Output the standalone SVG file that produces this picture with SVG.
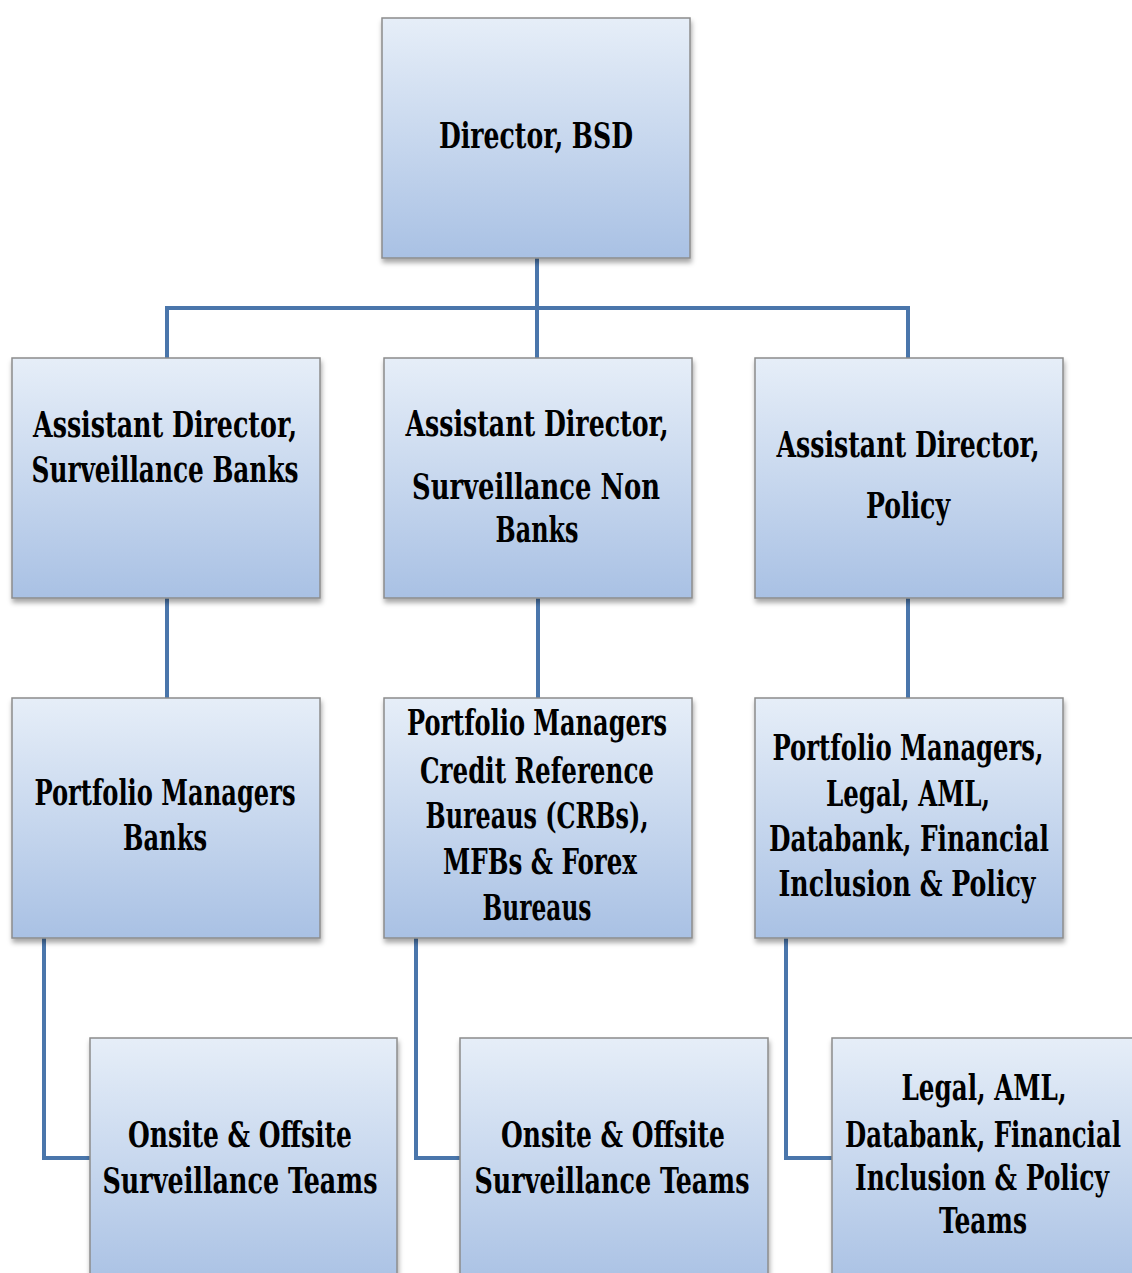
<svg xmlns="http://www.w3.org/2000/svg" width="1132" height="1273" viewBox="0 0 1132 1273">
<defs>
<linearGradient id="g" x1="0" y1="0" x2="0" y2="1">
<stop offset="0" stop-color="#e6eef8"/>
<stop offset="1" stop-color="#a9c1e4"/>
</linearGradient>
<filter id="sh" x="-10%" y="-10%" width="125%" height="125%">
<feDropShadow dx="1" dy="4" stdDeviation="2.5" flood-color="#000" flood-opacity="0.35"/>
</filter>
</defs>
<style>
.box{fill:url(#g);stroke:#8c8c8c;stroke-width:1.5;filter:url(#sh)}
.t{font-family:'DejaVu Serif Condensed','DejaVu Serif','Liberation Serif',serif;font-stretch:condensed;font-weight:bold;font-size:35px;fill:#000;text-anchor:middle}
.c{fill:none;stroke:#4a76ab;stroke-width:4}
</style>
<rect width="1132" height="1273" fill="#fff"/>
<g id="connectors">
<path class="c" d="M537 258V358M167 358V308H908V358"/>
<path class="c" d="M167 598V698M538 598V698M908 598V698"/>
<path class="c" d="M44 938V1158H90M416 938V1158H460M786 938V1158H832"/>
</g>
<g id="director">
<rect class="box" x="382" y="18" width="308" height="240"/>
<text class="t" x="536" y="148" textLength="194" lengthAdjust="spacingAndGlyphs">Director, BSD</text>
</g>
<g id="ad-banks">
<rect class="box" x="12" y="358" width="308" height="240"/>
<text class="t" x="165" y="437" textLength="264" lengthAdjust="spacingAndGlyphs">Assistant Director,</text>
<text class="t" x="165" y="482" textLength="267" lengthAdjust="spacingAndGlyphs">Surveillance Banks</text>
</g>
<g id="ad-nonbanks">
<rect class="box" x="384" y="358" width="308" height="240"/>
<text class="t" x="537" y="436" textLength="263" lengthAdjust="spacingAndGlyphs">Assistant Director,</text>
<text class="t" x="536" y="499" textLength="248" lengthAdjust="spacingAndGlyphs">Surveillance Non</text>
<text class="t" x="537" y="542" textLength="83" lengthAdjust="spacingAndGlyphs">Banks</text>
</g>
<g id="ad-policy">
<rect class="box" x="755" y="358" width="308" height="240"/>
<text class="t" x="908" y="457" textLength="263" lengthAdjust="spacingAndGlyphs">Assistant Director,</text>
<text class="t" x="908" y="518" textLength="84" lengthAdjust="spacingAndGlyphs">Policy</text>
</g>
<g id="pm-banks">
<rect class="box" x="12" y="698" width="308" height="240"/>
<text class="t" x="165" y="805" textLength="261" lengthAdjust="spacingAndGlyphs">Portfolio Managers</text>
<text class="t" x="165" y="850" textLength="84" lengthAdjust="spacingAndGlyphs">Banks</text>
</g>
<g id="pm-crb">
<rect class="box" x="384" y="698" width="308" height="240"/>
<text class="t" x="537" y="735" textLength="260" lengthAdjust="spacingAndGlyphs">Portfolio Managers</text>
<text class="t" x="537" y="783" textLength="234" lengthAdjust="spacingAndGlyphs">Credit Reference</text>
<text class="t" x="537" y="828" textLength="223" lengthAdjust="spacingAndGlyphs">Bureaus (CRBs),</text>
<text class="t" x="540" y="874" textLength="194" lengthAdjust="spacingAndGlyphs">MFBs &amp; Forex</text>
<text class="t" x="537" y="920" textLength="109" lengthAdjust="spacingAndGlyphs">Bureaus</text>
</g>
<g id="pm-policy">
<rect class="box" x="755" y="698" width="308" height="240"/>
<text class="t" x="908" y="760" textLength="271" lengthAdjust="spacingAndGlyphs">Portfolio Managers,</text>
<text class="t" x="908" y="806" textLength="164" lengthAdjust="spacingAndGlyphs">Legal, AML,</text>
<text class="t" x="909" y="851" textLength="280" lengthAdjust="spacingAndGlyphs">Databank, Financial</text>
<text class="t" x="907" y="896" textLength="257" lengthAdjust="spacingAndGlyphs">Inclusion &amp; Policy</text>
</g>
<g id="teams-banks">
<rect class="box" x="90" y="1038" width="307" height="250"/>
<text class="t" x="240" y="1147" textLength="224" lengthAdjust="spacingAndGlyphs">Onsite &amp; Offsite</text>
<text class="t" x="240" y="1193" textLength="275" lengthAdjust="spacingAndGlyphs">Surveillance Teams</text>
</g>
<g id="teams-nonbanks">
<rect class="box" x="460" y="1038" width="308" height="250"/>
<text class="t" x="613" y="1147" textLength="224" lengthAdjust="spacingAndGlyphs">Onsite &amp; Offsite</text>
<text class="t" x="612" y="1193" textLength="275" lengthAdjust="spacingAndGlyphs">Surveillance Teams</text>
</g>
<g id="teams-policy">
<rect class="box" x="832" y="1038" width="308" height="250"/>
<text class="t" x="984" y="1100" textLength="165" lengthAdjust="spacingAndGlyphs">Legal, AML,</text>
<text class="t" x="983" y="1147" textLength="276" lengthAdjust="spacingAndGlyphs">Databank, Financial</text>
<text class="t" x="982" y="1190" textLength="254" lengthAdjust="spacingAndGlyphs">Inclusion &amp; Policy</text>
<text class="t" x="983" y="1233" textLength="88" lengthAdjust="spacingAndGlyphs">Teams</text>
</g>
</svg>
